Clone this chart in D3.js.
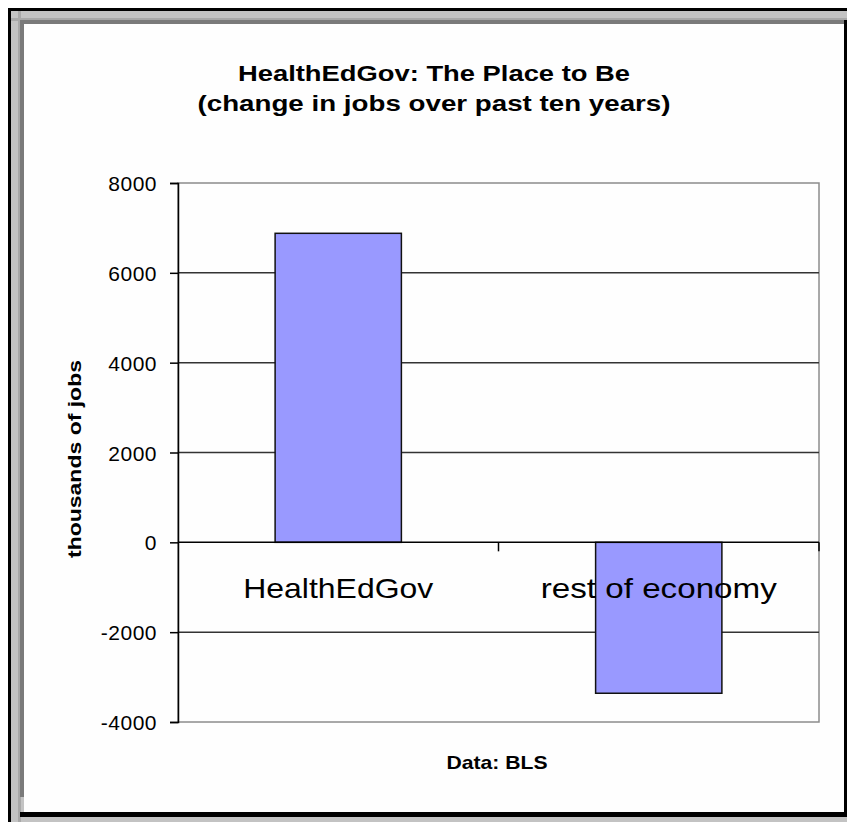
<!DOCTYPE html>
<html>
	<head>
		<title>HealthEdGov</title>
		<meta charset="utf-8">
	</head>
	<body>
	</body>
</html>
<script src="https://d3js.org/d3.v7.min.js"></script>
<style>
html,body{
	margin: 0;
	padding: 0;
	background: #fff;
}
svg text{
	font-family: Arial, "Liberation Sans", sans-serif;
	fill: #000;
}
</style>
<script>
	// data
	var categories=["HealthEdGov","rest of economy"];
	var jobChange=[6880,-3360];
	var yTicks=[-4000,-2000,0,2000,4000,6000,8000];
	var titleLines=["HealthEdGov: The Place to Be","(change in jobs over past ten years)"];

	var W=847,H=822;
	//plot box (note: "top" is taken by window.top)
	var plotL=178,plotR=819,plotT=183,plotB=722;

	var svg=d3.select("body")
	.append("svg")
	.attr("width",W)
	.attr("height",H);

	//window-ish frame
	svg.append("rect").attr("x",8).attr("y",8).attr("width",W-8).attr("height",H-8).attr("fill","#c3c3c3");
	svg.append("rect").attr("x",11).attr("y",18).attr("width",W-11).attr("height",3).attr("fill","#a8a8a8");
	svg.append("rect").attr("x",18).attr("y",11).attr("width",3).attr("height",H-11).attr("fill","#a8a8a8");
	svg.append("rect").attr("x",20).attr("y",20).attr("width",W-20).attr("height",H-25-20).attr("fill","#7a7a7a");
	svg.append("rect").attr("x",8).attr("y",8).attr("width",W-8).attr("height",3).attr("fill","#000");
	svg.append("rect").attr("x",8).attr("y",8).attr("width",3).attr("height",H-8).attr("fill","#000");
	svg.append("rect").attr("x",20).attr("y",812).attr("width",W-20).attr("height",5).attr("fill","#000");
	svg.append("rect").attr("x",844).attr("y",20).attr("width",3).attr("height",797).attr("fill","#000");
	svg.append("rect").attr("x",24).attr("y",24).attr("width",820).attr("height",788).attr("fill","#fefefe");

	var scaleX=d3.scaleBand()
	.domain(categories)
	.range([plotL,plotR])
	.paddingInner(0.606)
	.paddingOuter(0.303);

	var scaleY=d3.scaleLinear()
	.domain([-4000,8000])
	.range([plotB,plotT]);

	//plot border
	svg.append("rect")
	.attr("x",plotL)
	.attr("y",plotT)
	.attr("width",plotR-plotL)
	.attr("height",plotB-plotT)
	.attr("fill","none")
	.attr("stroke","#8c8c8c")
	.attr("stroke-width",1.5);

	//gridlines (not the ones on the border / zero)
	svg.append("g")
	.selectAll("line")
	.data(yTicks.filter(d=>d!==0&&d!==-4000&&d!==8000))
	.enter()
	.append("line")
	.attr("x1",plotL)
	.attr("x2",plotR)
	.attr("y1",d=>scaleY(d))
	.attr("y2",d=>scaleY(d))
	.attr("stroke","#333")
	.attr("stroke-width",1.5);

	svg.selectAll(".bar")
	.data(jobChange)
	.enter()
	.append("rect")
	.attr("class","bar")
	.attr("x",(d,i)=>scaleX(categories[i]))
	.attr("width",scaleX.bandwidth())
	.attr("y",d=>scaleY(Math.max(0,d)))
	.attr("height",d=>Math.abs(scaleY(d)-scaleY(0)))
	.attr("fill","#9999ff")
	.attr("stroke","#111")
	.attr("stroke-width",1.5);

	//y axis, plain hyphen minus like the original
	var yAxis=d3.axisLeft(scaleY)
	.tickValues(yTicks)
	.tickSize(8)
	.tickPadding(13)
	.tickFormat(d=>String(d));

	var gy=svg.append("g")
	.attr("transform","translate("+plotL+",0)")
	.call(yAxis);
	gy.select(".domain").attr("stroke","#000").attr("stroke-width",1.5);
	gy.selectAll(".tick line").attr("stroke","#000").attr("stroke-width",1.5);
	gy.selectAll(".tick text")
	.attr("font-size",21)
	.attr("font-family","Arial, 'Liberation Sans', sans-serif")
	.attr("letter-spacing",0.5)
	.attr("dy","0.36em");

	//zero line with category boundary ticks
	var zeroY=scaleY(0);
	svg.append("line")
	.attr("x1",plotL).attr("x2",plotR)
	.attr("y1",zeroY).attr("y2",zeroY)
	.attr("stroke","#000").attr("stroke-width",1.5);

	var bandW=(plotR-plotL)/categories.length;
	svg.append("g")
	.selectAll("line")
	.data([1,2])
	.enter()
	.append("line")
	.attr("x1",d=>plotL+d*bandW)
	.attr("x2",d=>plotL+d*bandW)
	.attr("y1",zeroY)
	.attr("y2",zeroY+9)
	.attr("stroke","#000")
	.attr("stroke-width",1.5);

	//category labels under the zero line
	var labelWidths=[190,236];
	svg.append("g")
	.selectAll("text")
	.data(categories)
	.enter()
	.append("text")
	.attr("x",d=>scaleX(d)+scaleX.bandwidth()/2)
	.attr("y",598)
	.attr("text-anchor","middle")
	.attr("font-size",28)
	.attr("textLength",(d,i)=>labelWidths[i])
	.attr("lengthAdjust","spacingAndGlyphs")
	.text(d=>d);

	//titles
	var titleWidths=[392,473];
	svg.append("g")
	.selectAll("text")
	.data(titleLines)
	.enter()
	.append("text")
	.attr("x",434)
	.attr("y",(d,i)=>81+i*30)
	.attr("text-anchor","middle")
	.attr("font-size",22)
	.attr("font-weight","bold")
	.attr("textLength",(d,i)=>titleWidths[i])
	.attr("lengthAdjust","spacingAndGlyphs")
	.text(d=>d);

	svg.append("text")
	.attr("transform","translate(81,459) rotate(-90)")
	.attr("text-anchor","middle")
	.attr("font-size",18)
	.attr("font-weight","bold")
	.attr("textLength",198)
	.attr("lengthAdjust","spacingAndGlyphs")
	.text("thousands of jobs");

	svg.append("text")
	.attr("x",497)
	.attr("y",769)
	.attr("text-anchor","middle")
	.attr("font-size",19)
	.attr("font-weight","bold")
	.attr("textLength",101)
	.attr("lengthAdjust","spacingAndGlyphs")
	.text("Data: BLS");
</script>
